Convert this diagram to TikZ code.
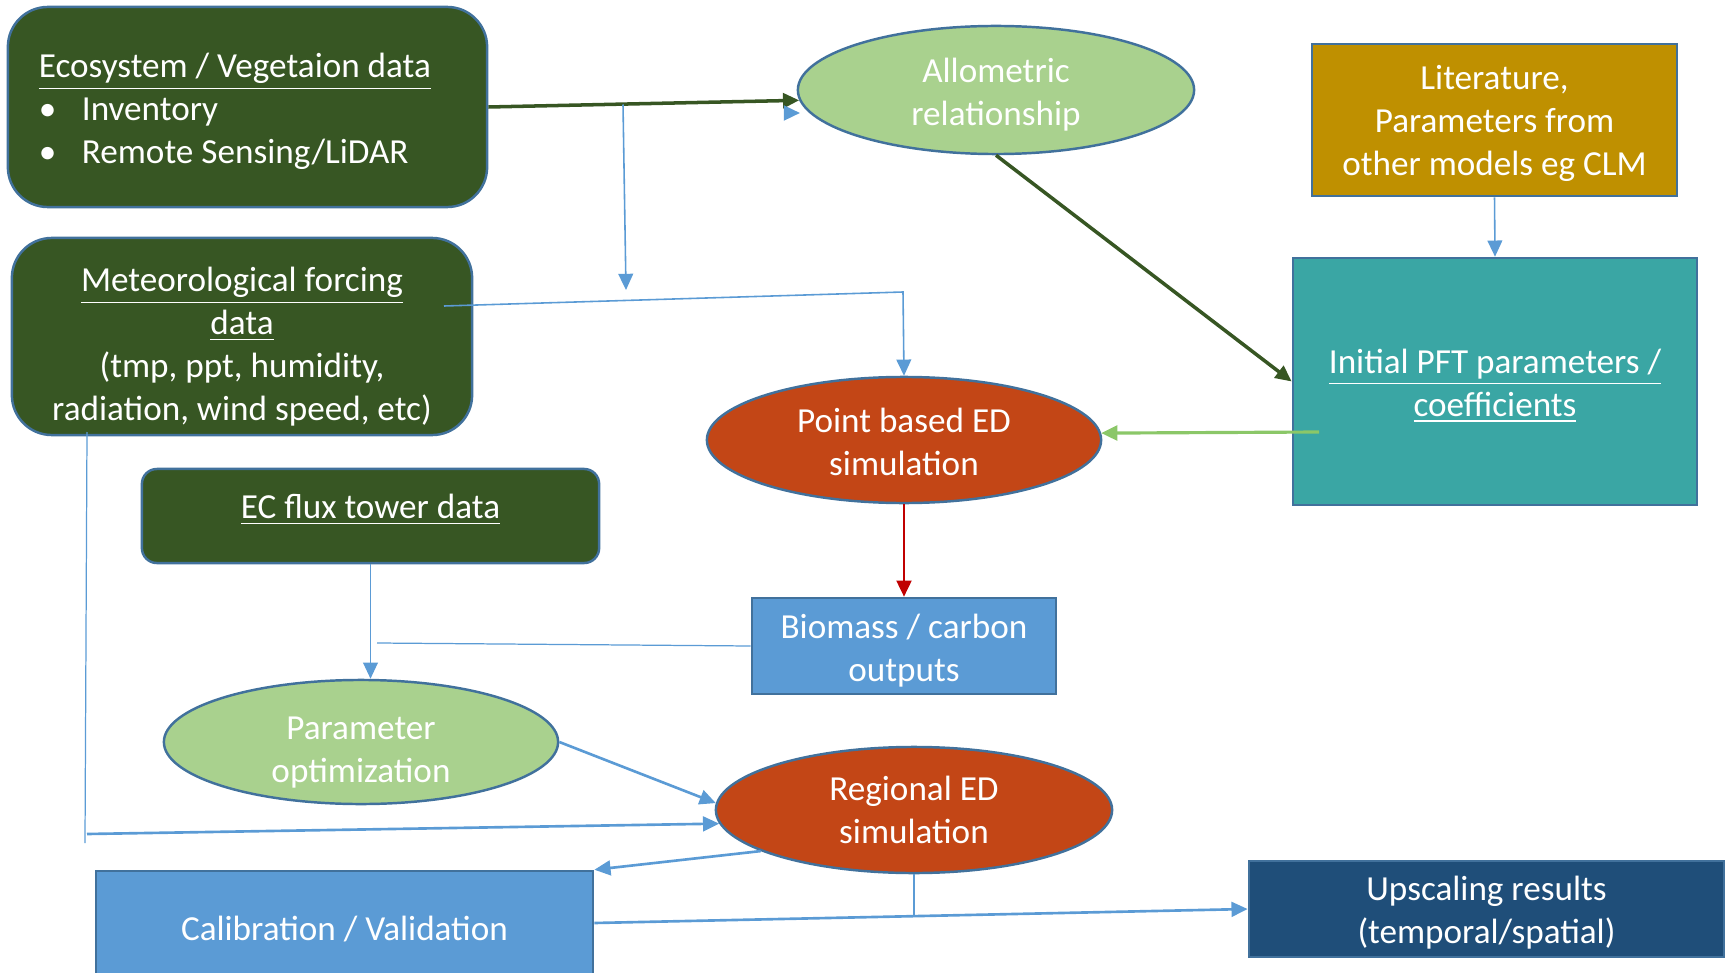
\documentclass[tikz,border=0pt]{standalone}
\usepackage{fontspec}
\setmainfont{Carlito}
\usetikzlibrary{shapes.geometric,arrows.meta}
\definecolor{edgeblue}{HTML}{41719C}
\definecolor{lineblue}{HTML}{5B9BD5}
\definecolor{darkgreen}{HTML}{375623}
\definecolor{leafgreen}{HTML}{A9D18E}
\definecolor{limegreen}{HTML}{8BC768}
\definecolor{rust}{HTML}{C34616}
\definecolor{litgold}{HTML}{BF9000}
\definecolor{pftteal}{HTML}{3AA6A4}
\definecolor{boxblue}{HTML}{5B9BD5}
\definecolor{upnavy}{HTML}{1F4E79}
\definecolor{redline}{HTML}{C00000}

\begin{document}
\begin{tikzpicture}[x=0.01cm,y=-0.01cm,
  every node/.style={text=white,font=\fontsize{10}{12.2}\selectfont,align=flush center,inner sep=0pt},
  textdrop/.style={execute at begin node={\rule{0pt}{#1}}},
  textdrop/.default=9.5pt,
  textlift/.style={execute at end node={\rule[-#1]{0pt}{0pt}}},
  textlift/.default=5.5pt,
  databox/.style={rectangle,draw=edgeblue,line width=0.7pt,fill=darkgreen,rounded corners=0.4cm},
  oval/.style={ellipse,draw=edgeblue,line width=0.7pt,text width=2.4cm,inner sep=-0.15cm},
  plainbox/.style={rectangle,draw=edgeblue,line width=0.7pt},
  tip/.style={-{Triangle[length=4.6pt,width=4.2pt]}},
  link/.style={tip,draw=lineblue,line width=0.75pt},
  thinarrow/.style={tip,draw=lineblue,line width=0.45pt},
  thinlink/.style={draw=lineblue,line width=0.35pt},
  greenlink/.style={tip,draw=darkgreen,line width=1pt},
  limelink/.style={tip,draw=limegreen,line width=0.9pt},
  redlink/.style={tip,draw=redline,line width=0.8pt}]
\useasboundingbox (0,0) rectangle (1727,973);

\node[databox,textdrop,minimum width=4.79cm,minimum height=2.00cm,text width=4.17cm,align=flush left] (eco) at (247.5,107)
  {\underline{Ecosystem / Vegetaion data}\\ \makebox[0.43cm][l]{\textbullet}Inventory\\ \makebox[0.43cm][l]{\textbullet}Remote Sensing/LiDAR};
\node[databox,textdrop=12.6pt,minimum width=4.60cm,minimum height=1.97cm,text width=4.3cm] (met) at (242,336.5)
  {\underline{Meteorological forcing}\\\underline{data}\\(tmp, ppt, humidity,\\radiation, wind speed, etc)};
\node[databox,textlift,rounded corners=0.15cm,minimum width=4.57cm,minimum height=0.94cm] (ec) at (370.5,516) {\underline{EC flux tower data}};
\node[oval,textdrop,fill=leafgreen,minimum width=3.96cm,minimum height=1.28cm] (allom) at (996,90) {Allometric\\relationship};
\node[plainbox,textdrop=8.9pt,fill=litgold,minimum width=3.65cm,minimum height=1.52cm,text width=3.4cm] (lit) at (1494.5,120) {Literature,\\Parameters from\\other models eg CLM};
\node[plainbox,textdrop,fill=pftteal,minimum width=4.04cm,minimum height=2.47cm,text width=3.8cm] (pft) at (1495,381.5) {\underline{Initial PFT parameters /}\\\underline{coefficients}};
\node[oval,textdrop=8.2pt,fill=rust,minimum width=3.94cm,minimum height=1.26cm] (point) at (904,440) {Point based ED\\simulation};
\node[plainbox,textdrop,fill=boxblue,minimum width=3.04cm,minimum height=0.96cm,text width=2.9cm] (bio) at (904,646) {Biomass / carbon\\outputs};
\node[oval,textdrop=12.6pt,fill=leafgreen,minimum width=3.94cm,minimum height=1.24cm] (param) at (361,742) {Parameter\\optimization};
\node[oval,fill=rust,minimum width=3.96cm,minimum height=1.26cm] (regional) at (914,810) {Regional ED\\simulation};
\node[plainbox,textdrop=8.9pt,fill=upnavy,minimum width=4.75cm,minimum height=0.96cm,text width=4.5cm] (up) at (1486.5,909) {Upscaling results\\(temporal/spatial)};
\node[plainbox,textdrop=10.1pt,fill=boxblue,minimum width=4.97cm,minimum height=1.04cm] (cal) at (344.5,923) {Calibration / Validation};

\coordinate (split) at (623,104.5);
\coordinate (splitend) at (626,290);
\coordinate (stubA) at (784,113);
\coordinate (stubB) at (800,113);
\coordinate (metout) at (444,306);
\coordinate (metbend) at (903,292);
\coordinate (pftout) at (1319,432);
\coordinate (bioend) at (377,643);
\coordinate (metfoot) at (87,432);
\coordinate (metlow) at (85,843);
\coordinate (metcorner) at (87,834);
\coordinate (upjoin) at (914,916);

\draw[greenlink] (eco.east) -- (allom.183);
\draw[thinarrow] (split) -- (splitend);
\draw[link] (stubA) -- (stubB);
\draw[thinarrow] (metout) -- (metbend) -- (point.north);
\draw[greenlink] (allom.south) -- (pft.west);
\draw[thinarrow] (lit.south) -- (pft.north);
\draw[limelink] (pftout) -- (point.2);
\draw[redlink] (point.south) -- (bio.north);
\draw[thinlink] (bio.west) -- (bioend);
\draw[thinarrow] (ec.south) -- (ec.south |- param.north);
\draw[link] (param.east) -- (regional.178);
\draw[thinlink] (metfoot) -- (metlow);
\draw[link] (metcorner) -- (regional.184);
\draw[link] (regional.195) -- (cal.north east);
\draw[link] (cal.east) -- (up.west);
\draw[thinlink] (regional.south) -- (upjoin);
\end{tikzpicture}
\end{document}
